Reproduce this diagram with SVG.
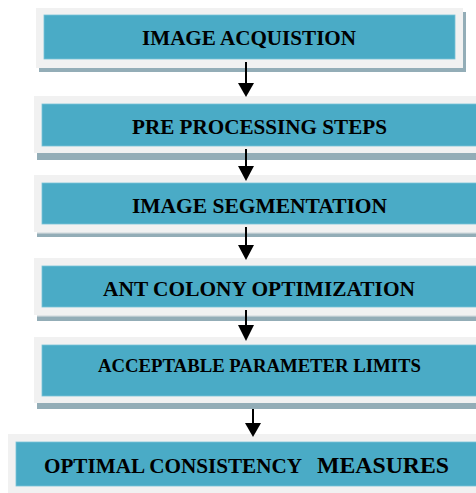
<svg xmlns="http://www.w3.org/2000/svg" width="476" height="493" viewBox="0 0 476 493">
  <style>
    .shadow { fill: #93adb7; }
    .frame { fill: #f1f1f1; }
    .edge { fill: #dfe4e6; }
    .panel { fill: #4aabc6; stroke: #78c3d8; stroke-width: 0.8; }
    .label { font-family: "Liberation Serif", "Times New Roman", serif; font-weight: bold; fill: #000; }
    .link { stroke: #000; stroke-width: 2; fill: none; }
    .head { fill: #000; }
  </style>
  <rect width="476" height="493" fill="#fff"/>

  <g id="image-acquisition">
    <rect class="shadow" x="39" y="12" width="427" height="60"/>
    <rect class="frame" x="36" y="8" width="427" height="60"/>
    <rect class="panel" x="44" y="15" width="411" height="44"/>
    <text class="label" x="142" y="44.5" font-size="21" textLength="214" lengthAdjust="spacingAndGlyphs">IMAGE ACQUISTION</text>
  </g>

  <g id="pre-processing">
    <rect class="shadow" x="37" y="100" width="445" height="60"/>
    <rect class="frame" x="34" y="96" width="448" height="57"/>
    <rect class="panel" x="42" y="104" width="440" height="42"/>
    <text class="label" x="132" y="134" font-size="21" textLength="255" lengthAdjust="spacingAndGlyphs">PRE PROCESSING STEPS</text>
  </g>

  <g id="segmentation">
    <rect class="shadow" x="37" y="180" width="445" height="57"/>
    <rect class="frame" x="34" y="175" width="448" height="57"/>
    <rect class="edge" x="37" y="232" width="445" height="1.5"/>
    <rect class="panel" x="42" y="183" width="440" height="41"/>
    <text class="label" x="132" y="213" font-size="21" textLength="255" lengthAdjust="spacingAndGlyphs">IMAGE SEGMENTATION</text>
  </g>

  <g id="ant-colony">
    <rect class="shadow" x="37" y="262" width="445" height="59"/>
    <rect class="frame" x="34" y="258" width="448" height="57"/>
    <rect class="edge" x="37" y="315" width="445" height="1.5"/>
    <rect class="panel" x="42" y="266" width="440" height="41"/>
    <text class="label" x="103" y="296" font-size="21" textLength="312" lengthAdjust="spacingAndGlyphs">ANT COLONY OPTIMIZATION</text>
  </g>

  <g id="parameter-limits">
    <rect class="shadow" x="37" y="342" width="445" height="67"/>
    <rect class="frame" x="34" y="337" width="448" height="66"/>
    <rect class="panel" x="42" y="345" width="440" height="51"/>
    <text class="label" x="98" y="372" font-size="18.5" textLength="323" lengthAdjust="spacingAndGlyphs">ACCEPTABLE PARAMETER LIMITS</text>
  </g>

  <g id="consistency-measures">
    <rect class="frame" x="8" y="434" width="474" height="59"/>
    <rect class="panel" x="16" y="442" width="466" height="44"/>
    <text class="label" x="44" y="473" font-size="20"><tspan textLength="258" lengthAdjust="spacingAndGlyphs">OPTIMAL CONSISTENCY</tspan><tspan x="317" font-size="24" textLength="132" lengthAdjust="spacingAndGlyphs">MEASURES</tspan></text>
  </g>

  <g id="connectors">
    <line class="link" x1="246" y1="62" x2="246" y2="86"/>
    <path class="head" d="M238,83 L254,83 L246,97 Z"/>
    <line class="link" x1="246" y1="149" x2="246" y2="169"/>
    <path class="head" d="M238,166 L254,166 L246,181 Z"/>
    <line class="link" x1="246" y1="227" x2="246" y2="248"/>
    <path class="head" d="M238,245 L254,245 L246,260 Z"/>
    <line class="link" x1="246" y1="310" x2="246" y2="328"/>
    <path class="head" d="M238,325 L254,325 L246,341 Z"/>
    <line class="link" x1="253" y1="409" x2="253" y2="426"/>
    <path class="head" d="M245,423 L261,423 L253,437 Z"/>
  </g>
</svg>
